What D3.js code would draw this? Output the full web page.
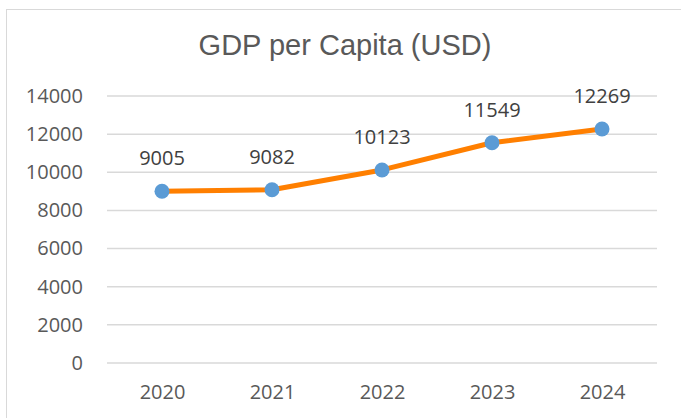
<!DOCTYPE html>
<meta charset='utf-8'>
<style>
    body { margin: 0; background: #fff; }
    .grid line { stroke: #d9d9d9; stroke-width: 1.5; }
    .axis text { font-family: 'Open Sans', sans-serif; font-size: 20px; fill: #595959; }
    .label { font-family: 'Open Sans', sans-serif; font-size: 20px; fill: #404040; }
    .title { font-family: 'Liberation Sans', Arial, sans-serif; font-size: 29px; fill: #595959; }
</style>

<svg width="681" height="418"></svg>
<script src="https://d3js.org/d3.v7.min.js"></script>
<script>

var years = ['2020', '2021', '2022', '2023', '2024'];
var gdp = [9005, 9082, 10123, 11549, 12269];
var yTicks = [0, 2000, 4000, 6000, 8000, 10000, 12000, 14000];

var svg = d3.select('svg');

var plotLeft = 107, plotRight = 657, plotTop = 96, plotBottom = 363;

// chart frame
svg.append('rect')
    .attr('x', 6.5).attr('y', 9.5)
    .attr('width', 680).attr('height', 420)
    .attr('fill', '#fff')
    .attr('stroke', '#d9d9d9');

var x = d3.scalePoint()
    .domain(years)
    .range([plotLeft, plotRight])
    .padding(0.5);

var y = d3.scaleLinear()
    .domain([0, 14000])
    .range([plotBottom, plotTop]);

svg.append('text')
    .attr('class', 'title')
    .attr('x', 345).attr('y', 55)
    .attr('text-anchor', 'middle')
    .text('GDP per Capita (USD)');

// gridlines
svg.append('g')
    .attr('class', 'grid')
    .selectAll('line')
    .data(yTicks)
    .enter().append('line')
    .attr('x1', plotLeft).attr('x2', plotRight)
    .attr('y1', function(d) { return y(d); })
    .attr('y2', function(d) { return y(d); });

var yAxis = svg.append('g')
    .attr('class', 'axis')
    .attr('transform', 'translate(' + (plotLeft - 24) + ',0)')
    .call(d3.axisLeft(y).tickValues(yTicks).tickSize(0).tickPadding(0).tickFormat(d3.format('d')));
yAxis.select('.domain').remove();

var xAxis = svg.append('g')
    .attr('class', 'axis')
    .attr('transform', 'translate(0,' + (plotBottom + 22) + ')')
    .call(d3.axisBottom(x).tickSize(0).tickPadding(0));
xAxis.select('.domain').remove();

var data = years.map(function(yr, i) { return { year: yr, value: gdp[i] }; });

var line = d3.line()
    .x(function(d) { return x(d.year); })
    .y(function(d) { return y(d.value); });

svg.append('path')
    .datum(data)
    .attr('fill', 'none')
    .attr('stroke', '#ff7f00')
    .attr('stroke-width', 5)
    .attr('stroke-linejoin', 'round')
    .attr('d', line);

svg.selectAll('.dot')
    .data(data)
    .enter().append('circle')
    .attr('class', 'dot')
    .attr('cx', function(d) { return x(d.year); })
    .attr('cy', function(d) { return y(d.value); })
    .attr('r', 7.5)
    .attr('fill', '#5b9bd5');

svg.selectAll('.label')
    .data(data)
    .enter().append('text')
    .attr('class', 'label')
    .attr('x', function(d) { return x(d.year); })
    .attr('y', function(d) { return y(d.value) - 26; })
    .attr('text-anchor', 'middle')
    .text(function(d) { return d.value; });

</script>
